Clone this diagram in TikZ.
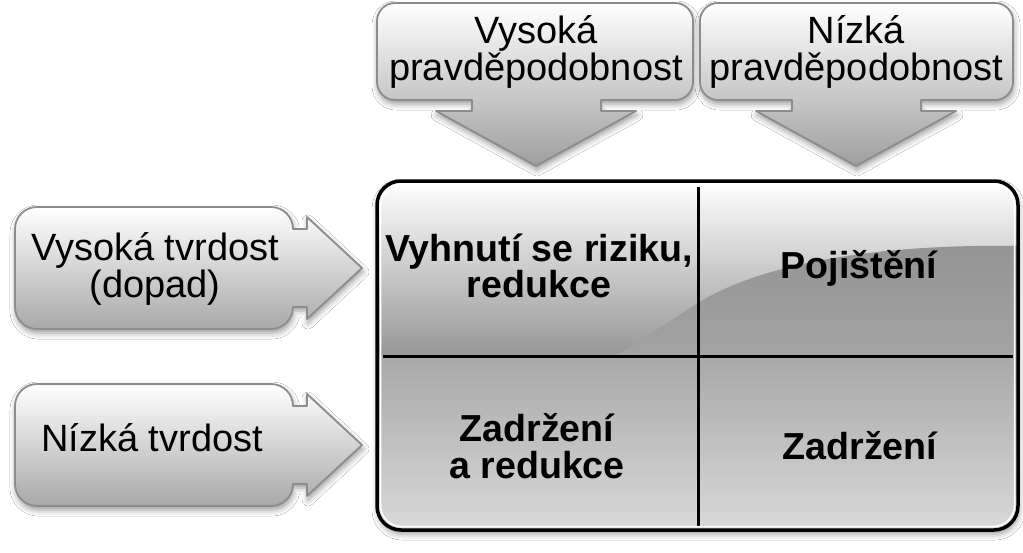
\documentclass[tikz,border=0pt]{standalone}
\usepackage{fontspec}
\setmainfont{Liberation Sans}
\usetikzlibrary{shadows.blur}
\definecolor{calloutedge}{gray}{0.55}
\definecolor{calloutbot}{gray}{0.62}
\definecolor{leftbot}{gray}{0.66}
\definecolor{upperbot}{gray}{0.59}
\definecolor{glosstop}{gray}{0.58}
\definecolor{glossbot}{gray}{0.64}
\definecolor{lowtop}{gray}{0.66}
\definecolor{lowbot}{gray}{0.85}
\begin{document}
\begin{tikzpicture}[x=1pt,y=1pt,
  softshadow/.style={blur shadow={shadow xshift=1pt,shadow yshift=-4pt,shadow blur radius=6pt,shadow opacity=40}},
  callout/.style={draw=calloutedge, line width=1.8pt, line join=round, softshadow},
  lbl/.style={font=\fontsize{38}{37.5}\selectfont, align=center, inner sep=0pt},
  cell/.style={font=\fontsize{37.6}{36.5}\selectfont\bfseries, align=center, inner sep=0pt}]

\useasboundingbox (0,0) rectangle (1023,-552);
\fill[white] (0,0) rectangle (1023,-552);

% top callouts
\path[callout, top color=white, bottom color=calloutbot]
 (395,-3) -- (675,-3) arc[start angle=90,end angle=0,radius=18] -- (693,-82)
 arc[start angle=0,end angle=-90,radius=18] -- (601,-100) -- (601,-111) -- (636,-111)
 -- (536,-166) -- (436,-111) -- (472,-111) -- (472,-100) -- (395,-100)
 arc[start angle=270,end angle=180,radius=18] -- (377,-21)
 arc[start angle=180,end angle=90,radius=18] -- cycle;
\path[callout, top color=white, bottom color=calloutbot]
 (718,-3) -- (995,-3) arc[start angle=90,end angle=0,radius=18] -- (1013,-82)
 arc[start angle=0,end angle=-90,radius=18] -- (921,-100) -- (921,-111) -- (956,-111)
 -- (856,-166) -- (756,-111) -- (792,-111) -- (792,-100) -- (718,-100)
 arc[start angle=270,end angle=180,radius=18] -- (700,-21)
 arc[start angle=180,end angle=90,radius=18] -- cycle;

% left callouts
\path[callout, top color=white, bottom color=leftbot]
 (37,-207) -- (271,-207) arc[start angle=90,end angle=0,radius=22] -- (307,-229)
 -- (307,-217) -- (362,-268) -- (307,-319) -- (307,-307) -- (293,-307)
 arc[start angle=0,end angle=-90,radius=22] -- (37,-329)
 arc[start angle=270,end angle=180,radius=22] -- (15,-229)
 arc[start angle=180,end angle=90,radius=22] -- cycle;
\path[callout, top color=white, bottom color=leftbot]
 (37,-384) -- (271,-384) arc[start angle=90,end angle=0,radius=22] -- (307,-406)
 -- (307,-394) -- (362,-445) -- (307,-496) -- (307,-484) -- (293,-484)
 arc[start angle=0,end angle=-90,radius=22] -- (37,-506)
 arc[start angle=270,end angle=180,radius=22] -- (15,-406)
 arc[start angle=180,end angle=90,radius=22] -- cycle;

% matrix
\path[fill=white, rounded corners=24pt, softshadow] (377,-181) rectangle (1018,-530);
\begin{scope}
  \clip[rounded corners=24pt] (377,-181) rectangle (1018,-530);
  \shade[top color=white, bottom color=upperbot] (377,-181) rectangle (1018,-356);
  \shade[top color=glosstop, bottom color=glossbot]
    (1018,-246) .. controls (900,-244) and (770,-258) .. (698,-303)
    .. controls (660,-327) and (640,-342) .. (615,-356) -- (1018,-356) -- cycle;
  \shade[top color=lowtop, bottom color=lowbot] (377,-356) rectangle (1018,-530);
\end{scope}
\draw[line width=3pt] (698,-187) -- (698,-526);
\draw[line width=3pt] (383,-356) -- (1013,-356);
\draw[white, line width=1.5pt, rounded corners=21pt] (380.5,-184.5) rectangle (1014.5,-526.5);
\draw[line width=3.5pt, rounded corners=24pt] (377,-181) rectangle (1018,-530);

% texts
\node[lbl] (tHigh) at (536,-52) {Vysoká\\pravděpodobnost};
\node[lbl] (tLow) at (856.5,-52) {Nízká\\pravděpodobnost};
\node[lbl] (lHigh) at (155,-269) {Vysoká tvrdost\\(dopad)};
\node[lbl, anchor=base] (lLow) at (152,-451) {Nízká tvrdost};
\node[cell] (q11) at (539,-266) {Vyhnutí se riziku,\\redukce};
\node[cell, anchor=base] (q12) at (859,-278) {Pojištění};
\node[cell] (q21) at (537,-446) {Zadržení\\a redukce};
\node[cell, anchor=base] (q22) at (860,-459) {Zadržení};
\end{tikzpicture}
\end{document}
